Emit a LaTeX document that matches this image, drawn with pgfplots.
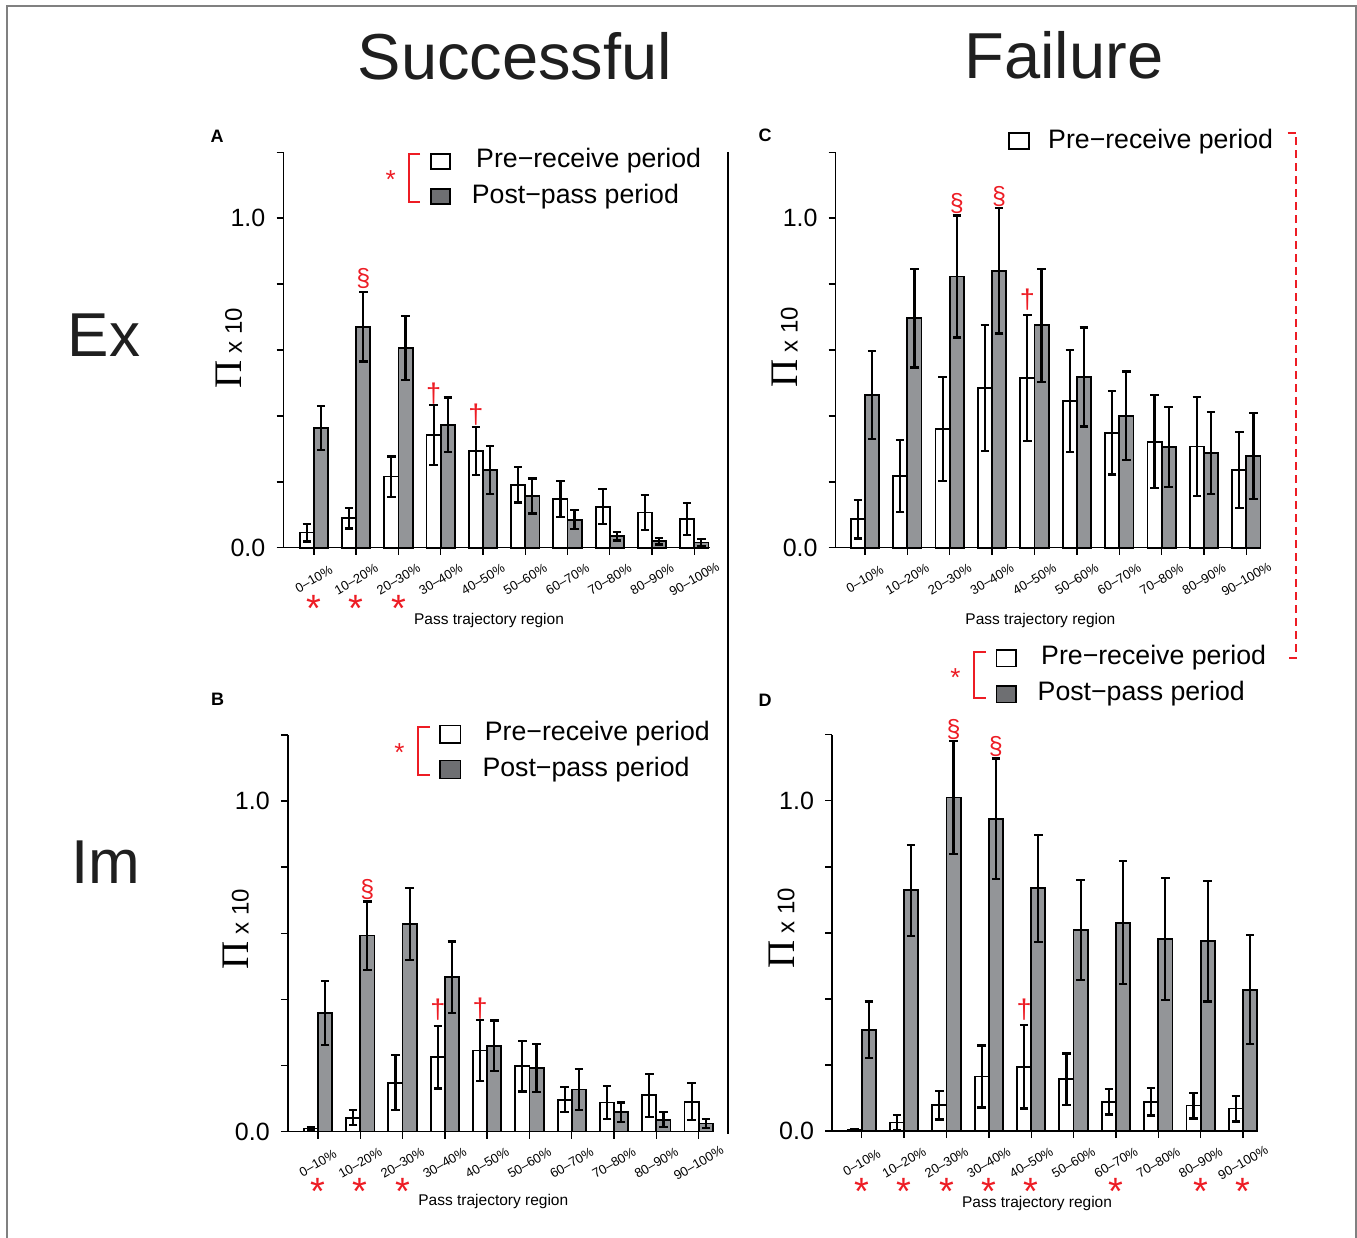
\documentclass[border=0pt]{standalone}
\usepackage{fontspec}
\setmainfont{Liberation Sans}
\newfontfamily\pifont{Liberation Serif}
\usepackage{pgfplots}
\usepackage{pgfplotstable}
\pgfplotsset{compat=1.18}

\definecolor{bargray}{RGB}{147,149,152}
\definecolor{leggray}{RGB}{110,111,114}
\definecolor{sigred}{RGB}{237,28,36}
\definecolor{framegray}{RGB}{128,128,128}

\pgfplotstableread{
x pre pe post poe
0 0.046 0.027 0.364 0.067
1 0.089 0.031 0.670 0.105
2 0.216 0.061 0.606 0.096
3 0.341 0.091 0.373 0.083
4 0.294 0.073 0.236 0.073
5 0.191 0.054 0.157 0.053
6 0.147 0.055 0.085 0.029
7 0.124 0.053 0.035 0.013
8 0.107 0.053 0.020 0.010
9 0.087 0.048 0.016 0.010
}\tabA
\pgfplotstableread{
x pre pe post poe
0 0.086 0.058 0.464 0.134
1 0.218 0.109 0.697 0.150
2 0.361 0.158 0.823 0.185
3 0.484 0.191 0.840 0.190
4 0.516 0.191 0.675 0.172
5 0.445 0.154 0.518 0.150
6 0.349 0.127 0.400 0.135
7 0.322 0.141 0.306 0.122
8 0.307 0.151 0.287 0.124
9 0.236 0.116 0.279 0.130
}\tabC
\pgfplotstableread{
x pre pe post poe
0 0.009 0.004 0.359 0.096
1 0.042 0.022 0.593 0.103
2 0.148 0.084 0.628 0.110
3 0.225 0.095 0.467 0.108
4 0.245 0.092 0.260 0.076
5 0.198 0.077 0.192 0.073
6 0.096 0.038 0.127 0.061
7 0.088 0.049 0.058 0.030
8 0.110 0.065 0.036 0.022
9 0.090 0.056 0.024 0.014
}\tabB
\pgfplotstableread{
x pre pe post poe
0 0.004 0.001 0.306 0.086
1 0.026 0.022 0.729 0.138
2 0.078 0.043 1.010 0.171
3 0.165 0.094 0.945 0.183
4 0.195 0.127 0.735 0.162
5 0.157 0.078 0.609 0.152
6 0.089 0.039 0.631 0.187
7 0.089 0.042 0.581 0.184
8 0.077 0.039 0.575 0.183
9 0.068 0.039 0.428 0.165
}\tabD

\pgfplotsset{
  panel/.style={
    scale only axis, anchor=south west, clip=false,
    ymin=0, ymax=1.2,
    axis x line=bottom, axis y line=left,
    axis line style={-, line width=1.4pt, black},
    ytick={0,0.2,0.4,0.6,0.8,1.0,1.2},
    yticklabels={0.0,,,,,1.0,},
    xtick={0,1,2,3,4,5,6,7,8,9},
    xticklabels={0–10\%,10–20\%,20–30\%,30–40\%,40–50\%,50–60\%,60–70\%,70–80\%,80–90\%,90–100\%},
    tick align=outside, major tick length=7pt,
    tick style={black, line width=1.4pt},
    yticklabel style={font=\fontsize{25}{25}\selectfont, anchor=east, inner sep=0pt, xshift=-11pt},
    xticklabel style={font=\fontsize{13}{13}\selectfont, inner sep=0pt, yshift=-24.5pt, rotate=30, anchor=center},
    ybar, bar width=0.335,
    /pgf/number format/assume math mode=true,
  },
  prebar/.style={fill=white, draw=black, line width=1.8pt, bar shift=-0.1675,
     error bars/y dir=both, error bars/y explicit,
     error bars/error bar style={line width=2.2pt, black, solid},
     error bars/error mark options={rotate=90, mark size=4.25pt, line width=2.2pt, black}},
  postbar/.style={fill=bargray, draw=black, line width=1.8pt, bar shift=0.1675,
     error bars/y dir=both, error bars/y explicit,
     error bars/error bar style={line width=2.2pt, black, solid},
     error bars/error mark options={rotate=90, mark size=4.25pt, line width=2.2pt, black}},
}
\newcommand\sigast[1]{\node[text=sigred, anchor=north, inner sep=0pt, font=\fontsize{38}{38}\selectfont] at ([yshift=-47pt]axis cs:#1,0) {*};}
\newcommand\sigsect[2]{\node[text=sigred, anchor=south, inner sep=0pt, font=\fontsize{25}{25}\selectfont] at (axis cs:#1,#2) {§};}
\newcommand\sigdag[2]{\node[text=sigred, anchor=south, inner sep=0pt, font=\fontsize{27}{27}\selectfont] at (axis cs:#1,#2) {†};}
\newcommand\ylab{{\pifont\fontsize{39}{39}\selectfont Π}\kern7pt{\fontsize{24}{24}\selectfont x 10}}

\begin{document}
\begin{tikzpicture}
\useasboundingbox (0pt,0pt) rectangle (1357pt,-1238pt);
% frame and separator
\draw[framegray, line width=2pt] (7.3pt,-1245pt) -- (7.3pt,-6pt) -- (1355.7pt,-6pt) -- (1355.7pt,-1245pt);
\draw[black, line width=1.2pt] (728pt,-152pt) -- (728pt,-1134pt);
% titles
\node[anchor=base, inner sep=0pt, font=\fontsize{65}{65}\selectfont, text=black!88] at (515pt,-80pt) {Successful};
\node[anchor=base, inner sep=0pt, font=\fontsize{65}{65}\selectfont, text=black!88] at (1064pt,-79pt) {Failure};
\node[anchor=base, inner sep=0pt, font=\fontsize{62}{62}\selectfont, text=black!88] at (104pt,-357pt) {Ex};
\node[anchor=base, inner sep=0pt, font=\fontsize{62}{62}\selectfont, text=black!88] at (106pt,-883pt) {Im};
% panel letters
\node[font=\bfseries\fontsize{18}{18}\selectfont, inner sep=0pt] at (217pt,-136pt) {A};
\node[font=\bfseries\fontsize{18}{18}\selectfont, inner sep=0pt] at (217.6pt,-699.5pt) {B};
\node[font=\bfseries\fontsize{18}{18}\selectfont, inner sep=0pt] at (765pt,-135pt) {C};
\node[font=\bfseries\fontsize{18}{18}\selectfont, inner sep=0pt] at (765pt,-700pt) {D};
% y labels
\node[rotate=90, inner sep=0pt] at (229.2pt,-348pt) {\ylab};
\node[rotate=90, inner sep=0pt] at (236pt,-929pt) {\ylab};
\node[rotate=90, inner sep=0pt] at (785pt,-347pt) {\ylab};
\node[rotate=90, inner sep=0pt] at (781.6pt,-928pt) {\ylab};
% x labels
\node[anchor=base, inner sep=0pt, font=\fontsize{15.5}{15.5}\selectfont] at (489pt,-624pt) {Pass trajectory region};
\node[anchor=base, inner sep=0pt, font=\fontsize{15.5}{15.5}\selectfont] at (1040.4pt,-624pt) {Pass trajectory region};
\node[anchor=base, inner sep=0pt, font=\fontsize{15.5}{15.5}\selectfont] at (493.3pt,-1205pt) {Pass trajectory region};
\node[anchor=base, inner sep=0pt, font=\fontsize{15.5}{15.5}\selectfont] at (1037pt,-1207.5pt) {Pass trajectory region};

% ---- Panel A
\begin{axis}[panel, at={(283.5pt,-547.7pt)}, width=426pt, height=395.4pt, xmin=-0.72, xmax=9.36]
\addplot[prebar] table[x=x, y=pre, y error=pe] {\tabA};
\addplot[postbar] table[x=x, y=post, y error=poe] {\tabA};
\sigsect{1.1675}{0.785}
\sigdag{2.8325}{0.435}
\sigdag{3.8325}{0.37}
\sigast{0}\sigast{1}\sigast{2}
\end{axis}
% ---- Panel C
\begin{axis}[panel, at={(835.7pt,-547.7pt)}, width=425.5pt, height=395.4pt, xmin=-0.69, xmax=9.35]
\addplot[prebar] table[x=x, y=pre, y error=pe] {\tabC};
\addplot[postbar] table[x=x, y=post, y error=poe] {\tabC};
\sigsect{2.1675}{1.012}
\sigsect{3.1675}{1.035}
\sigdag{3.8325}{0.72}
\end{axis}
% ---- Panel B
\begin{axis}[panel, at={(287.9pt,-1131.5pt)}, width=425.6pt, height=396.5pt, xmin=-0.71, xmax=9.35]
\addplot[prebar] table[x=x, y=pre, y error=pe] {\tabB};
\addplot[postbar] table[x=x, y=post, y error=poe] {\tabB};
\sigsect{1.1675}{0.70}
\sigdag{2.8325}{0.335}
\sigdag{3.8325}{0.34}
\sigast{0}\sigast{1}\sigast{2}
\end{axis}
% ---- Panel D
\begin{axis}[panel, at={(832.1pt,-1131pt)}, width=425.3pt, height=396.3pt, xmin=-0.70, xmax=9.34]
\addplot[prebar] table[x=x, y=pre, y error=pe] {\tabD};
\addplot[postbar] table[x=x, y=post, y error=poe] {\tabD};
\sigsect{2.1675}{1.185}
\sigsect{3.1675}{1.132}
\sigdag{3.8325}{0.335}
\sigast{0}\sigast{1}\sigast{2}\sigast{3}\sigast{4}\sigast{6}\sigast{8}\sigast{9}
\end{axis}

% ---- legends
\begin{scope}[font=\fontsize{26.7}{26.7}\selectfont]
% A
\node[text=sigred, anchor=north, inner sep=0pt, font=\fontsize{26}{26}\selectfont] at (390.7pt,-170pt) {*};
\draw[sigred, line width=2pt] (420pt,-154pt) -- (409pt,-154pt) -- (409pt,-201.7pt) -- (420pt,-201.7pt);
\draw[line width=1.6pt, fill=white] (431pt,-154pt) rectangle (450pt,-169.3pt);
\draw[line width=1.6pt, fill=leggray] (431pt,-189pt) rectangle (450pt,-204pt);
\node[anchor=base west, inner sep=0pt] at (476pt,-167.3pt) {Pre−receive period};
\node[anchor=base west, inner sep=0pt] at (471.7pt,-203.3pt) {Post−pass period};
% B
\node[text=sigred, anchor=north, inner sep=0pt, font=\fontsize{26}{26}\selectfont] at (399.5pt,-743pt) {*};
\draw[sigred, line width=2pt] (429.9pt,-726.5pt) -- (418pt,-726.5pt) -- (418pt,-774.5pt) -- (429.9pt,-774.5pt);
\draw[line width=1.6pt, fill=white] (440pt,-725.5pt) rectangle (460.3pt,-743pt);
\draw[line width=1.6pt, fill=leggray] (440pt,-760.3pt) rectangle (460.3pt,-778.6pt);
\node[anchor=base west, inner sep=0pt] at (484.7pt,-740pt) {Pre−receive period};
\node[anchor=base west, inner sep=0pt] at (482.3pt,-776pt) {Post−pass period};
% C
\draw[line width=1.6pt, fill=white] (1009pt,-133pt) rectangle (1029pt,-149.3pt);
\node[anchor=base west, inner sep=0pt] at (1048pt,-148.3pt) {Pre−receive period};
\draw[sigred, line width=2pt, dash pattern=on 8pt off 5pt] (1287.5pt,-133pt) -- (1296.4pt,-133pt) -- (1296.4pt,-658pt) -- (1287.5pt,-658pt);
% D
\node[text=sigred, anchor=north, inner sep=0pt, font=\fontsize{26}{26}\selectfont] at (955.4pt,-668pt) {*};
\draw[sigred, line width=2pt] (985.7pt,-651.8pt) -- (974.3pt,-651.8pt) -- (974.3pt,-698pt) -- (985.7pt,-698pt);
\draw[line width=1.6pt, fill=white] (996.4pt,-650pt) rectangle (1016pt,-666.6pt);
\draw[line width=1.6pt, fill=leggray] (996.4pt,-685.9pt) rectangle (1016pt,-702.5pt);
\node[anchor=base west, inner sep=0pt] at (1041pt,-664.8pt) {Pre−receive period};
\node[anchor=base west, inner sep=0pt] at (1037.5pt,-700pt) {Post−pass period};
\end{scope}
\end{tikzpicture}
\end{document}
